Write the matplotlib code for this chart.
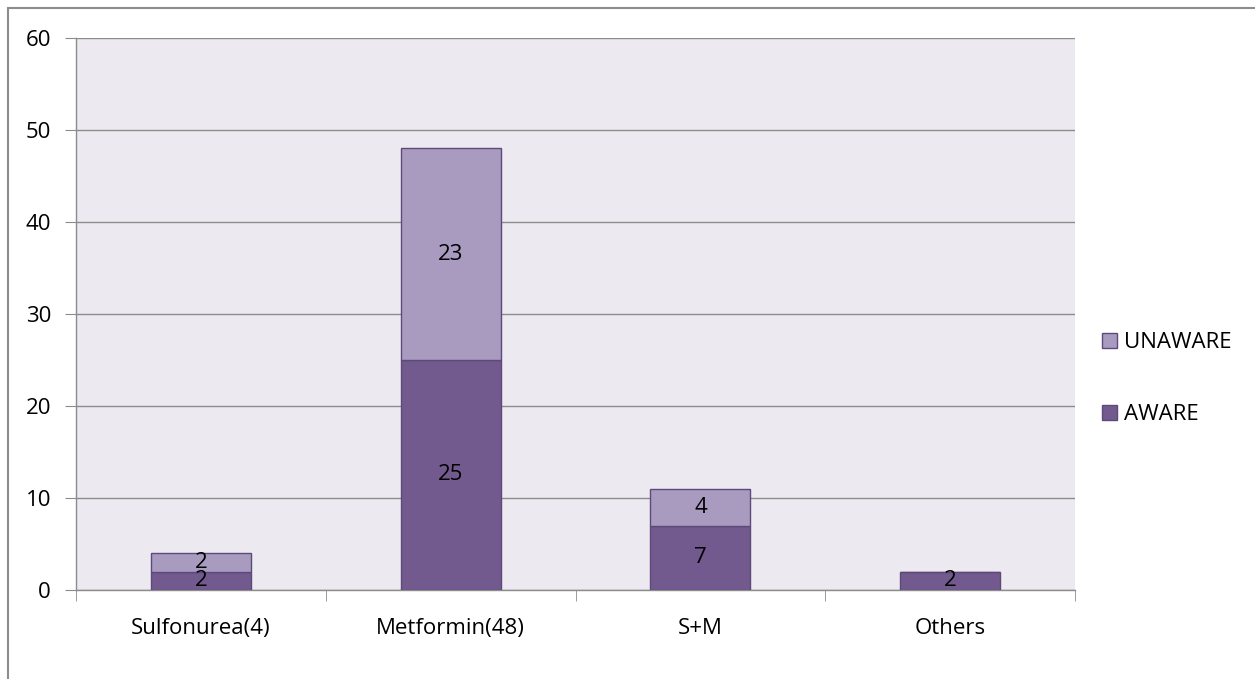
import matplotlib.pyplot as plt
import matplotlib.patches as mpatches
import numpy as np

categories = ['Sulfonurea(4)', 'Metformin(48)', 'S+M', 'Others']
aware = [2, 25, 7, 2]
unaware = [2, 23, 4, 0]

dark = '#725a8e'
light = '#a99bc0'
edge = '#5e4a7a'
grid = '#8c8c8c'

plt.rcParams['font.family'] = ['Open Sans', 'DejaVu Sans']
fs = 16

fig = plt.figure(figsize=(12.55, 6.79), dpi=100)
ax = fig.add_axes([0.0606, 0.1311, 0.796, 0.8129])
ax.set_facecolor('#eceaf0')

x = np.arange(len(categories))
w = 0.4
ax.bar(x, aware, w, color=dark, edgecolor=edge, linewidth=1, zorder=3, label='AWARE')
ax.bar(x, unaware, w, bottom=aware, color=light, edgecolor=edge, linewidth=1, zorder=3, label='UNAWARE')

# value labels centred in each segment
for i in range(len(categories)):
    if aware[i]:
        ax.text(x[i], aware[i] / 2, str(aware[i]), ha='center', va='center',
                fontsize=fs, color='black', zorder=4)
    if unaware[i]:
        ax.text(x[i], aware[i] + unaware[i] / 2, str(unaware[i]), ha='center', va='center',
                fontsize=fs, color='black', zorder=4)

ax.set_xlim(-0.5, len(categories) - 0.5)
ax.set_ylim(0, 60)
ax.set_yticks(range(0, 61, 10))
ax.yaxis.grid(True, color=grid, linewidth=1)
ax.set_axisbelow(True)

ax.set_xticks(x)
ax.set_xticklabels(categories)
ax.set_xticks(np.arange(-0.5, len(categories), 1), minor=True)
ax.tick_params(axis='x', which='major', length=0, pad=20, labelsize=fs)
ax.tick_params(axis='x', which='minor', length=8, color=grid)
ax.tick_params(axis='y', length=8, color=grid, pad=10, labelsize=fs)

for s in ['top', 'right']:
    ax.spines[s].set_visible(False)
for s in ['left', 'bottom']:
    ax.spines[s].set_color(grid)
    ax.spines[s].set_linewidth(1)

handles = [mpatches.Patch(facecolor=light, edgecolor=edge, label='UNAWARE'),
           mpatches.Patch(facecolor=dark, edgecolor=edge, label='AWARE')]
fig.legend(handles=handles, loc='center left', bbox_to_anchor=(0.862, 0.442),
           frameon=False, fontsize=fs, handlelength=0.7, handleheight=0.7,
           handletextpad=0.3, labelspacing=2.3)

# outer chart border
fig.add_artist(plt.Rectangle((8 / 1255, -0.01), 1.02, 1 - 8 / 679 + 0.01,
                             transform=fig.transFigure, fill=False,
                             edgecolor='#8c8c8c', linewidth=1.5))

fig.savefig('out.png', dpi=100)
